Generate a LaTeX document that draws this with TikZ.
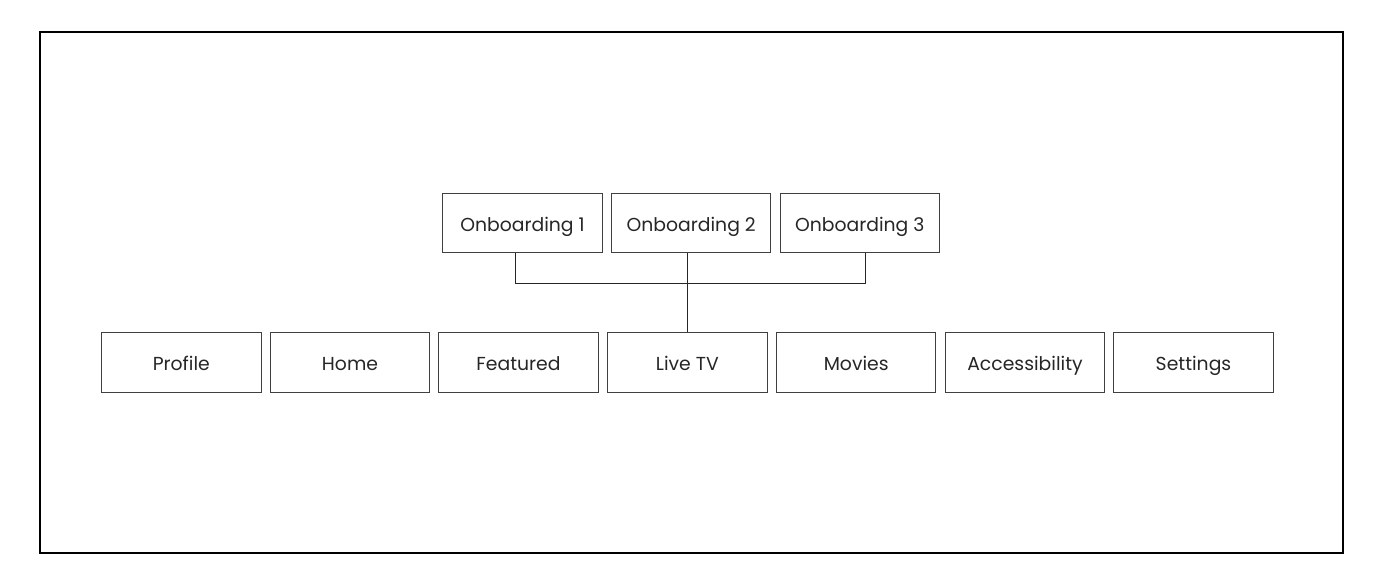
\documentclass[tikz,border=0pt]{standalone}
\usepackage{fontspec}
\setmainfont{Poppins}
\usepackage{tikz}
\tikzset{
  screen/.style={draw=black!75, line width=0.5pt, minimum width=79.75pt, minimum height=29.75pt, inner sep=0pt, text height=8pt, text depth=0pt, font=\fontsize{9.4}{11}\selectfont, text=black!85},
  link/.style={draw=black!85, line width=0.5pt},
}
\begin{document}
\begin{tikzpicture}[x=0.5pt,y=-0.5pt]
		\useasboundingbox (0,0) rectangle (1384,585);
		\draw[line width=0.75pt] (40,32) rectangle (1343,553);

		\node[screen] (onb1) at (522.5,223) {Onboarding 1};
		\node[screen] (onb2) at (691.2,223) {Onboarding 2};
		\node[screen] (onb3) at (859.8,223) {Onboarding 3};

		\node[screen] (profile) at (181.3,362.5) {Profile};
		\node[screen] (home) at (350,362.5) {Home};
		\node[screen] (featured) at (518.5,362.5) {Featured};
		\node[screen] (live) at (687.3,362.5) {Live TV};
		\node[screen] (movies) at (856.2,362.5) {Movies};
		\node[screen] (access) at (1025,362.5) {Accessibility};
		\node[screen] (settings) at (1193.5,362.5) {Settings};

		\coordinate (join) at (687.3,283.3);
		\draw[link] ([xshift=-3.6pt]onb1.south) |- (join) -| ([xshift=2.6pt]onb3.south);
		\draw[link] (onb2.south -| live.north) -- (live.north);
	\end{tikzpicture}
\end{document}
